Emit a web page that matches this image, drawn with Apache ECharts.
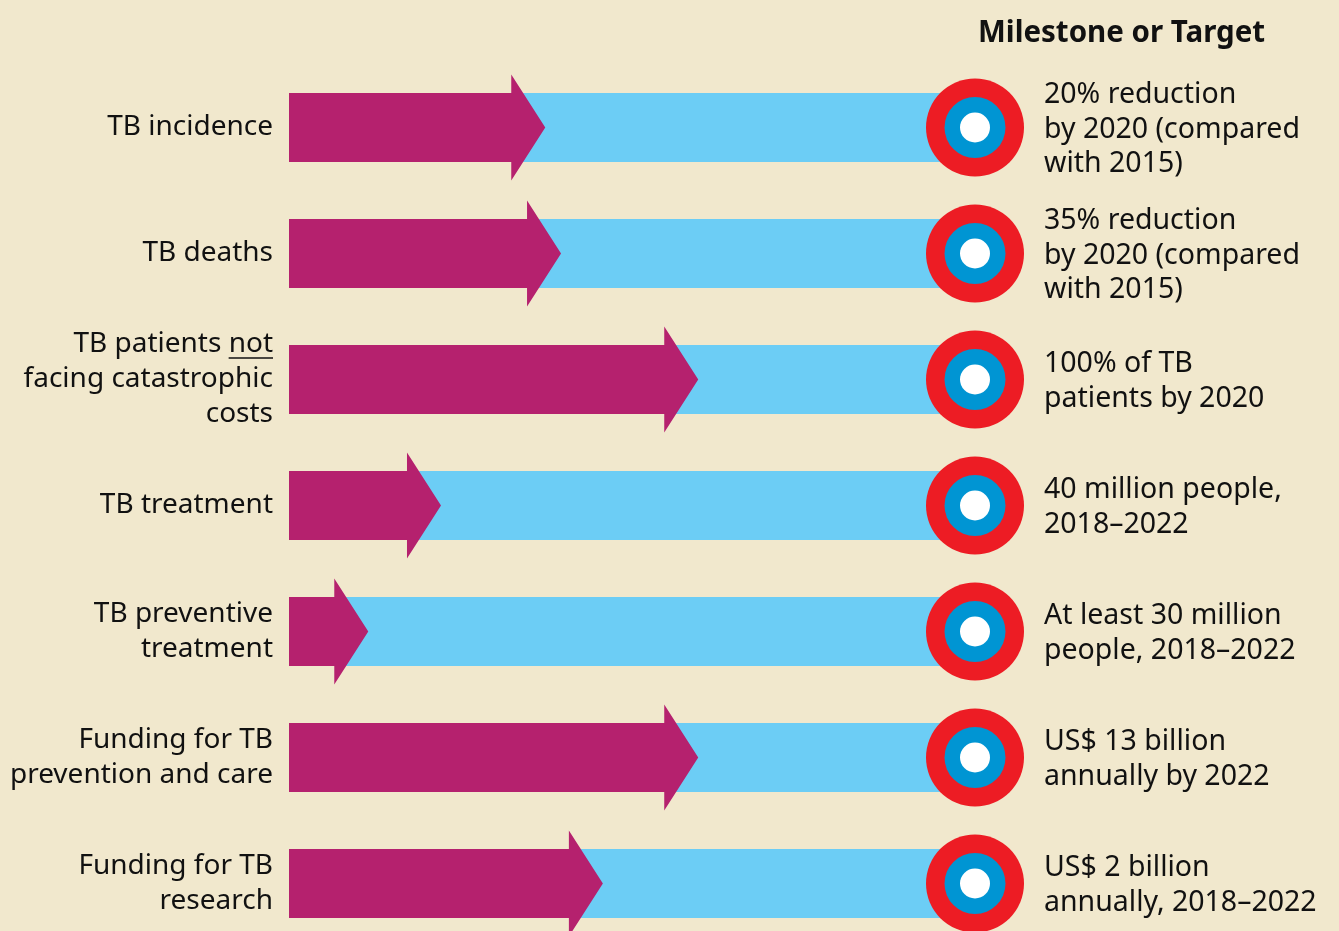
<!DOCTYPE html>
<html lang="en" style="height: 100%">
<head>
  <meta charset="utf-8">
</head>
<body style="height: 100%; margin: 0">
  <div id="container" style="height: 100%"></div>

  <script type="text/javascript" src="https://cdn.jsdelivr.net/npm/echarts@6/dist/echarts.min.js"></script>
  <script type="text/javascript">
// indicators, top to bottom
const indicators = [
  'TB incidence',
  'TB deaths',
  'TB patients not\nfacing catastrophic\ncosts',
  'TB treatment',
  'TB preventive\ntreatment',
  'Funding for TB\nprevention and care',
  'Funding for TB\nresearch'
];
// progress towards milestone, %
const progress = [32.4, 34.7, 54.7, 17.2, 6.6, 54.7, 40.8];
// the milestone itself sits at 100%
const targetLevel = [100, 100, 100, 100, 100, 100, 100];
const targets = [
  '20% reduction\nby 2020 (compared\nwith 2015)',
  '35% reduction\nby 2020 (compared\nwith 2015)',
  '100% of TB\npatients by 2020',
  '40 million people,\n2018\u20132022',
  'At least 30 million\npeople, 2018\u20132022',
  'US$ 13 billion\nannually by 2022',
  'US$ 2 billion\nannually, 2018\u20132022'
];

var dom = document.getElementById('container');
var myChart = echarts.init(dom, null, { renderer: 'canvas' });

var FONT = '"Noto Sans", "Open Sans", sans-serif';
var FS = 28;

// width of the underlined word "not" so the rule sits under it
var mctx = document.createElement('canvas').getContext('2d');
mctx.font = FS + 'px ' + FONT;
var notW = mctx.measureText('not').width;

var option = {
  backgroundColor: '#F1E8CD',
  animation: false,
  title: {
    text: 'Milestone or Target',
    left: 978,
    top: 19,
    padding: 0,
    textStyle: { fontFamily: FONT, fontSize: 29.5, fontWeight: 'bold', color: '#111' }
  },
  grid: { left: 289, right: 364, top: 64.5, height: 882, outerBoundsMode: 'none' },
  xAxis: { type: 'value', min: 0, max: 100, show: false },
  yAxis: {
    type: 'category',
    inverse: true,
    data: indicators,
    axisLine: { show: false },
    axisTick: { show: false },
    splitLine: { show: false },
    axisLabel: {
      margin: 16,
      align: 'right',
      fontFamily: FONT,
      fontSize: FS,
      lineHeight: 35,
      color: '#111'
    }
  },
  series: [
    {
      // light blue track up to the milestone
      type: 'bar',
      z: 1,
      data: targetLevel,
      barWidth: 69,
      itemStyle: { color: '#6CCDF5' },
      silent: true
    },
    {
      // magenta progress arrow
      type: 'custom',
      z: 3,
      data: progress.map(function (v, i) { return [v, i]; }),
      encode: { x: 0, y: 1 },
      renderItem: function (params, api) {
        var p0 = api.coord([0, api.value(1)]);
        var p1 = api.coord([api.value(0), api.value(1)]);
        var y = p0[1], x0 = p0[0], xe = p1[0];
        var hb = 34.5, hh = 53, hl = 34;
        return {
          type: 'polygon',
          shape: {
            points: [
              [x0, y - hb], [xe, y - hb], [xe, y - hh], [xe + hl, y],
              [xe, y + hh], [xe, y + hb], [x0, y + hb]
            ]
          },
          style: { fill: '#B5216E' }
        };
      }
    },
    {
      // milestone target + text
      type: 'custom',
      z: 4,
      data: targetLevel.map(function (v, i) { return [v, i]; }),
      encode: { x: 0, y: 1 },
      renderItem: function (params, api) {
        var c = api.coord([api.value(0), api.value(1)]);
        return {
          type: 'group',
          children: [
            { type: 'circle', shape: { cx: c[0], cy: c[1], r: 49 }, style: { fill: '#ED1C24' } },
            { type: 'circle', shape: { cx: c[0], cy: c[1], r: 30.5 }, style: { fill: '#0095D3' } },
            { type: 'circle', shape: { cx: c[0], cy: c[1], r: 15 }, style: { fill: '#FFFFFF' } },
            {
              type: 'text',
              x: c[0] + 69,
              y: c[1] + 2,
              style: {
                text: targets[params.dataIndex],
                fontFamily: FONT,
                fontSize: 28.5,
                lineHeight: 34.5,
                fill: '#111',
                align: 'left',
                verticalAlign: 'middle'
              }
            }
          ]
        };
      }
    }
  ],
  graphic: [
    // underline under "not"
    { type: 'line', shape: { x1: 273 - notW, y1: 358, x2: 273, y2: 358 }, style: { stroke: '#111', lineWidth: 1.5 } }
  ]
};

if (option && typeof option === 'object') {
  myChart.setOption(option);
}

window.addEventListener('resize', myChart.resize);
  </script>
</body>
</html>
